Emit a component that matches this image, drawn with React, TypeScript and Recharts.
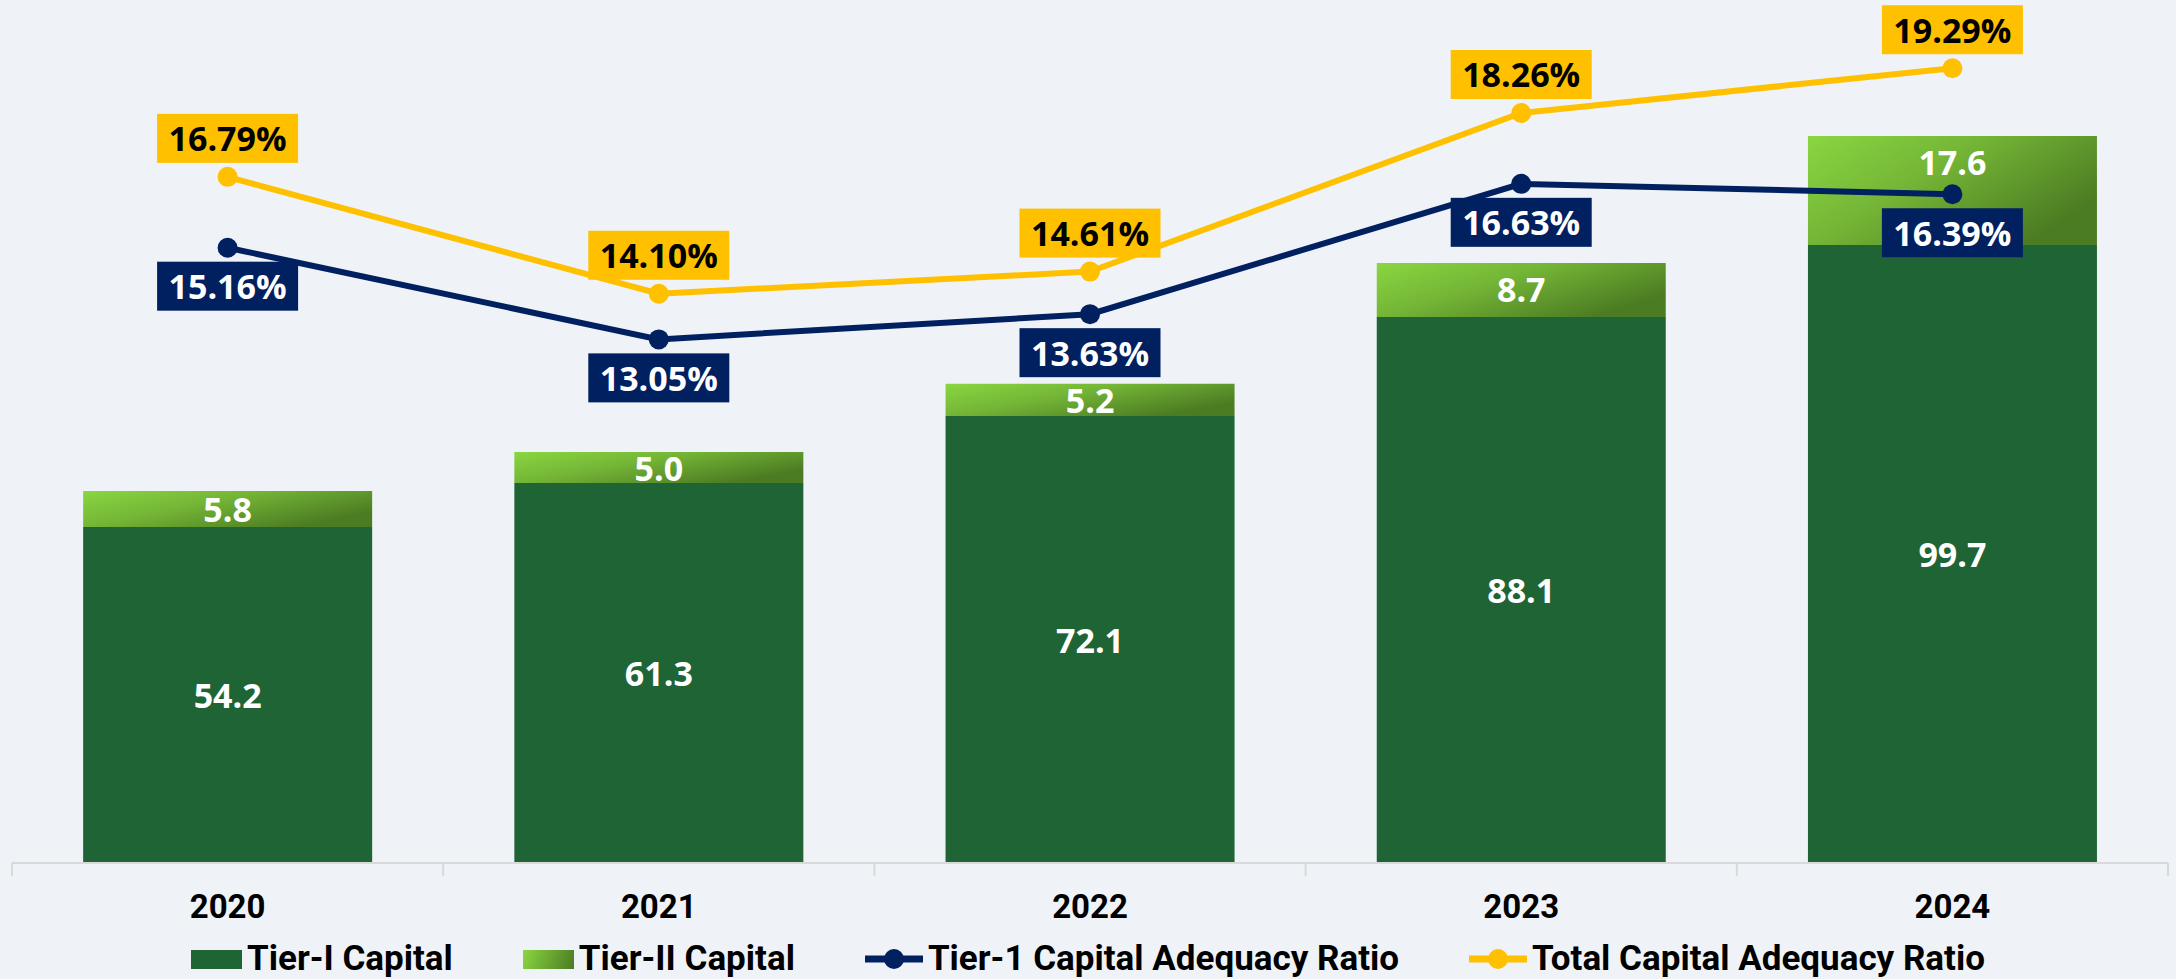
import { ComposedChart, Bar, Line, XAxis, YAxis, Legend, LabelList } from 'recharts';

const years = ['2020', '2021', '2022', '2023', '2024'];
const tier1Capital = [54.2, 61.3, 72.1, 88.1, 99.7];
const tier2Capital = [5.8, 5.0, 5.2, 8.7, 17.6];
const tier1Ratio = [15.16, 13.05, 13.63, 16.63, 16.39];
const totalRatio = [16.79, 14.1, 14.61, 18.26, 19.29];

const data = years.map((year, i) => ({
  year,
  tier1: tier1Capital[i],
  tier2: tier2Capital[i],
  t1car: tier1Ratio[i],
  car: totalRatio[i],
}));

const W = 2176;
const H = 979;
const MARGIN = { top: 20, right: 8, left: 12, bottom: 0 };
const CAT_W = (W - MARGIN.left - MARGIN.right) / years.length;

const BG = '#EFF3F8';
const DARK_GREEN = '#1F6434';
const LIGHT_GREEN = '#8AD641';
const OLIVE = '#4B7B22';
const NAVY = '#002060';
const GOLD = '#FFC000';
const AXIS = '#D9D9D9';
const LABEL_FONT = "'Open Sans', sans-serif";
const AXIS_FONT = 'Roboto, sans-serif';

const legendItems = [
  { name: 'Tier-I Capital', kind: 'bar', color: DARK_GREEN },
  { name: 'Tier-II Capital', kind: 'gradient', color: LIGHT_GREEN },
  { name: 'Tier-1 Capital Adequacy Ratio', kind: 'line', color: NAVY },
  { name: 'Total Capital Adequacy Ratio', kind: 'line', color: GOLD },
];

function YearTick(props: any) {
  const { x, y, payload, index } = props;
  const left = x - CAT_W / 2;
  const right = x + CAT_W / 2;
  return (
    <g>
      <line x1={left} x2={left} y1={y} y2={y + 13} stroke={AXIS} strokeWidth={2} />
      {index === years.length - 1 && (
        <line x1={right} x2={right} y1={y} y2={y + 13} stroke={AXIS} strokeWidth={2} />
      )}
      <text
        x={x}
        y={y + 55}
        textAnchor="middle"
        fontFamily={AXIS_FONT}
        fontWeight={700}
        fontSize={33}
        fill="#000"
      >
        {payload.value}
      </text>
    </g>
  );
}

// boxed percentage label, above (dir=-1) or below (dir=1) the point
function boxLabel(fill: string, textColor: string, dir: number) {
  return (props: any) => {
    const { x, y, value } = props;
    if (value == null) return null;
    const cy = y + dir * 38.5;
    return (
      <g>
        <rect x={x - 70.5} y={cy - 24.5} width={141} height={49} fill={fill} />
        <text
          x={x}
          y={cy}
          textAnchor="middle"
          dominantBaseline="central"
          fontFamily={LABEL_FONT}
          fontWeight={700}
          fontSize={34}
          fill={textColor}
        >
          {Number(value).toFixed(2)}%
        </text>
      </g>
    );
  };
}

function Tier1Label(props: any) {
  const { x, y, width, height, value } = props;
  return (
    <text
      x={x + width / 2}
      y={y + height / 2}
      textAnchor="middle"
      dominantBaseline="central"
      fontFamily={LABEL_FONT}
      fontWeight={700}
      fontSize={34}
      fill="#fff"
    >
      {Number(value).toFixed(1)}
    </text>
  );
}

// tier-II label sits in the middle, but stays near the top on tall segments
function Tier2Label(props: any) {
  const { x, y, width, height, value } = props;
  const cy = Math.min(y + height / 2, y + 26);
  return (
    <text
      x={x + width / 2}
      y={cy}
      textAnchor="middle"
      dominantBaseline="central"
      fontFamily={LABEL_FONT}
      fontWeight={700}
      fontSize={34}
      fill="#fff"
    >
      {Number(value).toFixed(1)}
    </text>
  );
}

function LegendIcon({ kind, color }: { kind: string; color: string }) {
  if (kind === 'line') {
    return (
      <svg width={58} height={24} style={{ display: 'block' }}>
        <line x1={0} x2={58} y1={12} y2={12} stroke={color} strokeWidth={7} />
        <circle cx={29} cy={12} r={10} fill={color} />
      </svg>
    );
  }
  return (
    <div
      style={{
        width: 51,
        height: 19,
        background:
          kind === 'gradient' ? `linear-gradient(110deg, ${LIGHT_GREEN}, ${OLIVE})` : color,
      }}
    />
  );
}

function LegendContent() {
  return (
    <div
      style={{
        display: 'flex',
        justifyContent: 'center',
        alignItems: 'center',
        gap: 70,
        height: 60,
        paddingTop: 20,
        boxSizing: 'border-box',
      }}
    >
      {legendItems.map((it) => (
        <div key={it.name} style={{ display: 'flex', alignItems: 'center', gap: 5 }}>
          <LegendIcon kind={it.kind} color={it.color} />
          <span
            style={{
              fontFamily: AXIS_FONT,
              fontWeight: 700,
              fontSize: 35,
              color: '#000',
              lineHeight: '40px',
            }}
          >
            {it.name}
          </span>
        </div>
      ))}
    </div>
  );
}

export default function App() {
  return (
    <div style={{ width: W, height: H, background: BG, fontFamily: AXIS_FONT }}>
      <style>{'body{margin:0;background:' + BG + '}'}</style>
      <ComposedChart
        width={W}
        height={H}
        data={data}
        margin={MARGIN}
        barCategoryGap="16.5%"
      >
        <defs>
          <linearGradient id="tier2Fill" x1="0" y1="0" x2="1" y2="0.6">
            <stop offset="0%" stopColor={LIGHT_GREEN} />
            <stop offset="45%" stopColor="#74B536" />
            <stop offset="100%" stopColor={OLIVE} />
          </linearGradient>
        </defs>
        <XAxis
          dataKey="year"
          height={56}
          axisLine={{ stroke: AXIS, strokeWidth: 2 }}
          tickLine={false}
          tickSize={0}
          tickMargin={0}
          tick={<YearTick />}
          interval={0}
        />
        <YAxis yAxisId="left" hide domain={[0, 136]} />
        <YAxis yAxisId="right" orientation="right" hide domain={[1, 20.4]} />
        <Legend verticalAlign="bottom" content={<LegendContent />} wrapperStyle={{ left: 0, width: W }} />
        <Bar dataKey="tier1" stackId="cap" yAxisId="left" fill={DARK_GREEN} isAnimationActive={false}>
          <LabelList dataKey="tier1" content={<Tier1Label />} />
        </Bar>
        <Bar dataKey="tier2" stackId="cap" yAxisId="left" fill="url(#tier2Fill)" isAnimationActive={false}>
          <LabelList dataKey="tier2" content={<Tier2Label />} />
        </Bar>
        <Line
          dataKey="car"
          yAxisId="right"
          stroke={GOLD}
          strokeWidth={6}
          dot={{ r: 10, fill: GOLD, stroke: GOLD, strokeWidth: 0 }}
          activeDot={false}
          isAnimationActive={false}
          label={boxLabel(GOLD, '#000', -1)}
        />
        <Line
          dataKey="t1car"
          yAxisId="right"
          stroke={NAVY}
          strokeWidth={6}
          dot={{ r: 10, fill: NAVY, stroke: NAVY, strokeWidth: 0 }}
          activeDot={false}
          isAnimationActive={false}
          label={boxLabel(NAVY, '#fff', 1)}
        />
      </ComposedChart>
    </div>
  );
}
